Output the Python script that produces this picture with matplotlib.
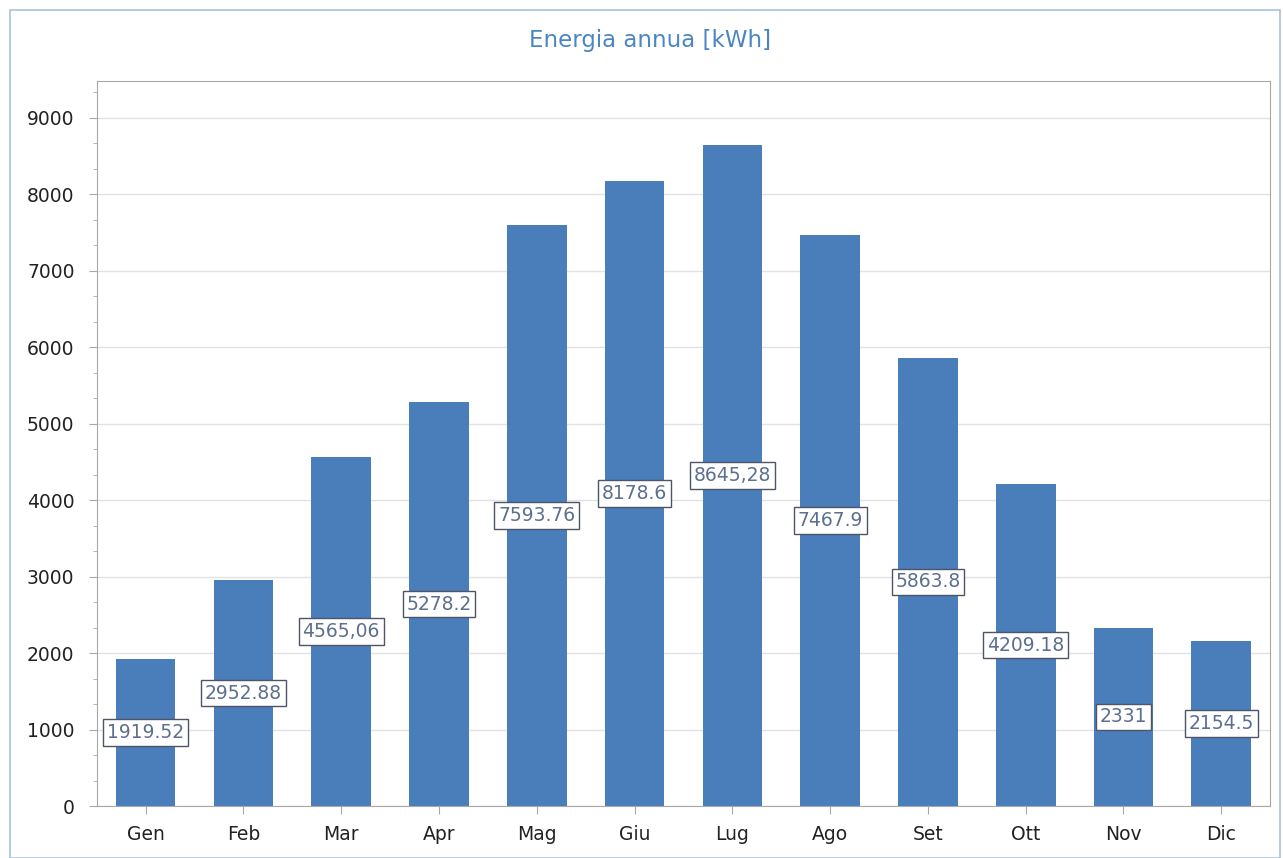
import matplotlib.pyplot as plt
from matplotlib.patches import Rectangle
from matplotlib.ticker import AutoMinorLocator, MultipleLocator

mesi = ['Gen', 'Feb', 'Mar', 'Apr', 'Mag', 'Giu', 'Lug', 'Ago', 'Set', 'Ott', 'Nov', 'Dic']
energia = [1919.52, 2952.88, 4565.06, 5278.2, 7593.76, 8178.6, 8645.28, 7467.9, 5863.8, 4209.18, 2331, 2154.5]
etichette = ['1919.52', '2952.88', '4565,06', '5278.2', '7593.76', '8178.6', '8645,28', '7467.9', '5863.8', '4209.18', '2331', '2154.5']

fig = plt.figure(figsize=(12.83, 8.58), dpi=100)
ax = fig.add_axes([0.0754, 0.0606, 0.9146, 0.845])

# cornice esterna
fig.patches.append(Rectangle((10 / 1283, 0.0), 1270 / 1283, 1 - 10 / 858, transform=fig.transFigure,
                             fill=False, edgecolor='#a9c1de', linewidth=1.2))

x = range(len(mesi))
ax.bar(x, energia, width=0.61, color='#4a7ebb', zorder=2)

for i, v in enumerate(energia):
    ax.text(i, v / 2, etichette[i], ha='center', va='center', fontsize=13.5, color='#5d6f8f', zorder=3,
            bbox=dict(boxstyle='square,pad=0.2', facecolor='white', edgecolor='#4d5566', linewidth=1))

ax.set_xlim(-0.5, 11.5)
ax.set_ylim(0, 9480)
ax.set_xticks(list(x))
ax.set_xticklabels(mesi)
ax.yaxis.set_major_locator(MultipleLocator(1000))
ax.yaxis.set_minor_locator(AutoMinorLocator(3))
ax.grid(axis='y', color='#e2e2e2', linewidth=1, zorder=0)

for s in ax.spines.values():
    s.set_color('#a8a8a8')
ax.tick_params(axis='both', which='major', labelsize=13.5, labelcolor='#222222', color='#a8a8a8', length=6, direction='out')
ax.tick_params(axis='y', which='minor', color='#a8a8a8', length=3)
ax.tick_params(axis='x', pad=8)
ax.tick_params(axis='y', pad=10)

fig.text(0.507, 0.953, 'Energia annua [kWh]', ha='center', va='center', fontsize=16.5, color='#4a86c5')

plt.savefig('out.png', dpi=100)
